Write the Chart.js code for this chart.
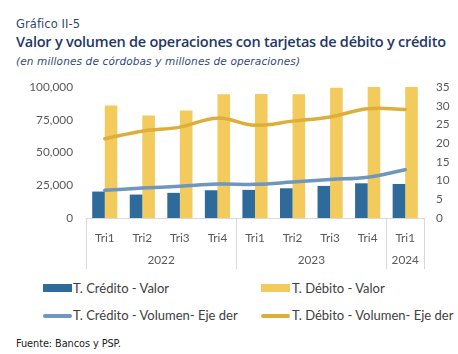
<!DOCTYPE html>
<html>
<head>
<meta charset="utf-8">
<script src="https://cdn.jsdelivr.net/npm/chart.js@4"></script>
<style>
  body { margin: 0; background: #fff; }
  #wrap { position: relative; width: 458px; height: 354px; overflow: hidden; font-family: Lato, "Open Sans", sans-serif; }
  .t { position: absolute; left: 16px; white-space: nowrap; color: #1F3864; font-family: "DejaVu Sans", sans-serif; line-height: 1; }
  #g { top: 19px; font-size: 11.5px; color: #2F4A78; }
  #tt { top: 35px; font-size: 14.5px; font-weight: 600; color: #1F3864; font-family: "Open Sans", sans-serif; }
  #st { top: 56px; font-size: 10.5px; font-style: italic; color: #2F4A78; }
  #box { position: absolute; left: 0; top: 75px; width: 458px; height: 200px; }
  .lg { position: absolute; font-size: 13px; color: #404040; white-space: nowrap; }
  .sw { position: absolute; width: 29px; }
  #src { position: absolute; left: 16px; top: 339px; font-size: 9.8px; color: #222; font-family: "DejaVu Sans", sans-serif; line-height: 1; }
</style>
</head>
<body>
<div id="wrap">
  <div class="t" id="g" data-w="64">Gráfico II-5</div>
  <div class="t" id="tt" data-w="430">Valor y volumen de operaciones con tarjetas de débito y crédito</div>
  <div class="t" id="st" data-w="284">(en millones de córdobas y millones de operaciones)</div>
  <div id="box"><canvas id="chartBar"></canvas></div>

  <div class="sw" style="left:43px; top:284px; height:8px; background:#2E6A9A"></div>
  <div class="lg" style="left:73px; top:280px">T. Crédito - Valor</div>
  <div class="sw" style="left:261px; top:284px; height:8px; background:#F2CB5C"></div>
  <div class="lg" style="left:292px; top:280px">T. Débito - Valor</div>
  <div class="sw" style="left:43px; top:314px; height:4px; border-radius:2px; background:#6F96BC"></div>
  <div class="lg" style="left:73px; top:307px">T. Crédito - Volumen- Eje der</div>
  <div class="sw" style="left:261px; top:314px; height:4px; border-radius:2px; background:#DDAE3A"></div>
  <div class="lg" style="left:292px; top:307px">T. Débito - Volumen- Eje der</div>

  <div id="src" data-w="105">Fuente: Bancos y PSP.</div>
</div>
<script>
// datos
var trimestres = ['Tri1', 'Tri2', 'Tri3', 'Tri4', 'Tri1', 'Tri2', 'Tri3', 'Tri4', 'Tri1']
var anios = ['2022', '2023', '2024']
var aniosTamanio = [4, 4, 1]
var creditoValor = [20200, 17900, 19200, 21200, 21500, 22700, 24500, 26500, 26000]
var debitoValor = [86000, 78200, 82200, 94600, 94800, 94600, 99400, 100000, 100000]
var creditoVolumen = [7.4, 8.0, 8.5, 9.1, 9.0, 9.6, 10.3, 10.9, 12.9]
var debitoVolumen = [21.2, 23.2, 24.3, 26.7, 24.8, 25.9, 27.0, 29.2, 29.0]
var ticksIzq = [0, 25000, 50000, 75000, 100000]
var ticksDer = [0, 5, 10, 15, 20, 25, 30, 35]

// ajusta o espacamento dos textos para a largura do original
document.querySelectorAll('[data-w]').forEach(function (el) {
    var alvo = parseFloat(el.dataset.w)
    var w = el.getBoundingClientRect().width
    var n = el.textContent.length - 1
    el.style.letterSpacing = ((alvo - w) / n) + 'px'
})

const cinzaTexto = '#595959'
const cinzaLinha = '#D9D9D9'
const fonteEixo = { family: 'Lato, "Open Sans", sans-serif', size: 11.8 }

// separadores e anos embaixo do eixo x
const anosPlugin = {
    id: 'anosPlugin',
    afterDraw(chart) {
        const c = chart.ctx
        const x = chart.scales.x
        const passo = (x.right - x.left) / trimestres.length
        const base = x.top
        c.save()
        c.strokeStyle = cinzaLinha
        c.lineWidth = 1
        c.fillStyle = cinzaTexto
        c.font = fonteEixo.size + 'px ' + fonteEixo.family
        c.textAlign = 'center'
        c.textBaseline = 'middle'
        let idx = 0
        c.beginPath()
        c.moveTo(Math.round(x.left) + 0.5, base)
        c.lineTo(Math.round(x.left) + 0.5, base + 51)
        for (let i = 0; i < anios.length; i++) {
            let ini = x.getPixelForValue(idx) - passo / 2
            idx += aniosTamanio[i]
            let fim = x.getPixelForValue(idx - 1) + passo / 2
            c.moveTo(Math.round(fim) + 0.5, base)
            c.lineTo(Math.round(fim) + 0.5, base + 51)
            c.fillText(anios[i], (ini + fim) / 2, base + 42)
        }
        c.stroke()
        c.restore()
    }
}

const ctx = document.getElementById('chartBar')
var meuGrafico = new Chart(ctx, {
    data: {
        labels: trimestres,
        datasets: [
            { type: 'line', label: 'T. Crédito - Volumen- Eje der', data: creditoVolumen, yAxisID: 'y1',
              borderColor: '#6F96BC', borderWidth: 3.5, pointRadius: 0, tension: 0.4, order: 0, borderCapStyle: 'round' },
            { type: 'line', label: 'T. Débito - Volumen- Eje der', data: debitoVolumen, yAxisID: 'y1',
              borderColor: '#DDAE3A', borderWidth: 3.5, pointRadius: 0, tension: 0.4, order: 0, borderCapStyle: 'round' },
            { type: 'bar', label: 'T. Crédito - Valor', data: creditoValor, yAxisID: 'y',
              backgroundColor: '#2E6A9A', categoryPercentage: 0.67, barPercentage: 1.0, order: 1 },
            { type: 'bar', label: 'T. Débito - Valor', data: debitoValor, yAxisID: 'y',
              backgroundColor: '#F2CB5C', categoryPercentage: 0.67, barPercentage: 1.0, order: 1 }
        ]
    },
    options: {
        responsive: true,
        maintainAspectRatio: false,
        animation: false,
        layout: { padding: { top: 10.5, left: 0, right: 0, bottom: 0 } },
        plugins: {
            legend: { display: false },
            tooltip: { enabled: false }
        },
        scales: {
            x: {
                grid: { display: false },
                border: { display: true, color: cinzaLinha },
                ticks: { color: cinzaTexto, font: fonteEixo, padding: 5, maxRotation: 0 },
                afterFit(s) { s.height = 57 }
            },
            y: {
                position: 'left',
                min: 0, max: 100000,
                grid: { display: false },
                border: { display: false },
                afterBuildTicks(s) { s.ticks = ticksIzq.map(v => ({ value: v })) },
                ticks: {
                    color: cinzaTexto, font: fonteEixo, padding: 5, autoSkip: false,
                    callback: v => v.toLocaleString('en-US')
                },
                afterFit(s) { s.width = 86 }
            },
            y1: {
                position: 'right',
                min: 0, max: 35,
                grid: { display: false },
                border: { display: false },
                afterBuildTicks(s) { s.ticks = ticksDer.map(v => ({ value: v })) },
                ticks: { color: cinzaTexto, font: fonteEixo, padding: 4, autoSkip: false },
                afterFit(s) { s.width = 34 }
            }
        }
    },
    plugins: [anosPlugin]
})
</script>
</body>
</html>
